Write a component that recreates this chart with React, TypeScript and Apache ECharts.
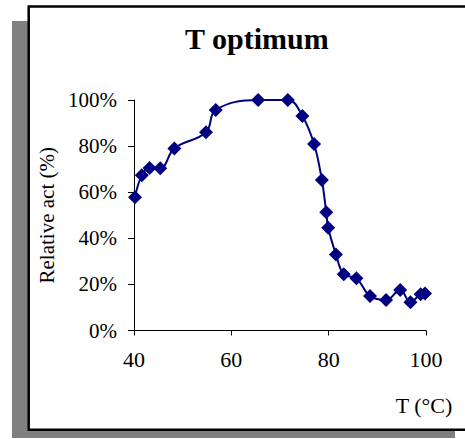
import { useEffect, useRef } from "react";
import * as echarts from "echarts";

const temperatures = [40.2, 41.6, 43.2, 45.4, 48.3, 54.8, 56.8, 65.5, 71.6, 74.6, 77.0, 78.6, 79.5, 79.9, 81.5, 83.1, 85.7, 88.5, 91.8, 94.7, 96.8, 98.9, 99.8];
const activities = [57.8, 67.3, 70.5, 70.4, 79.0, 86.0, 95.7, 100, 100, 93.1, 80.9, 65.3, 51.3, 44.6, 33.0, 24.4, 22.7, 15.0, 13.2, 17.6, 12.3, 15.7, 16.0];
const xRange = [40, 100];
const xStep = 20;
const yRange = [0, 100];
const yStep = 20;
const chartTitle = "T optimum";
const xName = "T (°C)";
const yName = "Relative act (%)";

const FONT = "'Liberation Serif', 'Times New Roman', serif";

export default function App() {
  const ref = useRef<HTMLDivElement>(null);
  useEffect(() => {
    const chart = echarts.init(ref.current!, null, { renderer: "svg" });
    chart.setOption({
      animation: false,
      backgroundColor: "#ffffff",
      title: {
        text: chartTitle,
        left: 185,
        top: 23,
        padding: 0,
        textStyle: { fontFamily: FONT, fontSize: 30, fontWeight: "bold", color: "#000" },
      },
      graphic: [
        { type: "rect", z: -20, shape: { x: 12, y: 21, width: 443, height: 417 }, style: { fill: "#808080" } },
        { type: "rect", z: -10, shape: { x: 28.7, y: 6.5, width: 460, height: 423.2 }, style: { fill: "#ffffff", stroke: "#000", lineWidth: 2.5 } },
      ],
      grid: { left: 134, right: 39, top: 100, bottom: 108.5 },
      xAxis: {
        type: "value",
        min: xRange[0],
        max: xRange[1],
        interval: xStep,
        name: xName,
        nameLocation: "end",
        nameGap: -2,
        nameTextStyle: { fontFamily: FONT, fontSize: 22, color: "#000", align: "center", verticalAlign: "top", padding: [64, 0, 0, 0] },
        splitLine: { show: false },
        axisLine: { lineStyle: { color: "#000", width: 1 } },
        axisTick: { show: true, length: 5, lineStyle: { color: "#000" } },
        axisLabel: { fontFamily: FONT, fontSize: 22, color: "#000", margin: 18 },
      },
      yAxis: {
        type: "value",
        min: yRange[0],
        max: yRange[1],
        interval: yStep,
        name: yName,
        nameLocation: "middle",
        nameRotate: 90,
        nameGap: 73,
        nameTextStyle: { fontFamily: FONT, fontSize: 21, color: "#000" },
        splitLine: { show: false },
        axisLine: { show: true, lineStyle: { color: "#000", width: 1 } },
        axisTick: { show: true, length: 6, lineStyle: { color: "#000" } },
        axisLabel: { fontFamily: FONT, fontSize: 21, color: "#000", margin: 17, formatter: "{value}%" },
      },
      series: [
        {
          type: "line",
          data: temperatures.map((t, i) => [t, activities[i]]),
          smooth: 0.4,
          symbol: "diamond",
          symbolSize: 14,
          itemStyle: { color: "#000080" },
          lineStyle: { color: "#000080", width: 2 },
        },
      ],
    });
    return () => chart.dispose();
  }, []);
  return <div ref={ref} style={{ position: "absolute", left: 0, top: 0, width: 465, height: 439 }} />;
}
